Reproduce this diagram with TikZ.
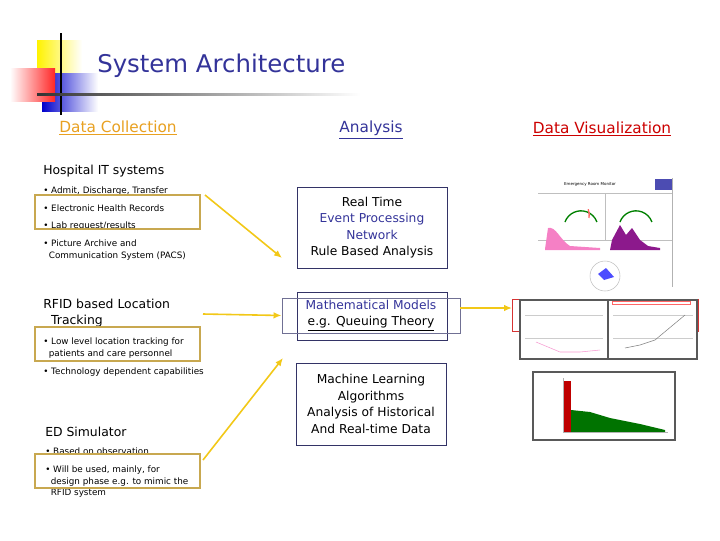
\documentclass[tikz,border=0pt]{standalone}
\usepackage{fontspec}
\setmainfont{DejaVu Sans}
\usetikzlibrary{arrows.meta}
\definecolor{ttl}{HTML}{333399}
\definecolor{tan}{HTML}{C8A850}
\definecolor{ylw}{HTML}{F2C818}
\definecolor{bbox}{HTML}{333366}
\definecolor{org}{HTML}{E8A020}
\definecolor{rd}{HTML}{CC0000}
\tikzset{
 px/.style={x=0.75pt,y=-0.75pt},
 hdr/.style={font=\fontsize{11.5}{13}\selectfont},
 bul/.style={font=\fontsize{6.6}{8.3}\selectfont,align=left,anchor=north west,inner sep=0pt},
 sub/.style={font=\fontsize{9.3}{11.5}\selectfont,align=left,anchor=north west,inner sep=0pt},
 tb/.style={draw=tan,line width=0.8pt},
 ab/.style={draw=bbox,line width=0.7pt,font=\fontsize{9.2}{12.3}\selectfont,align=center,inner sep=0pt},
 arr/.style={draw=ylw,line width=1.2pt,-{Latex[length=6pt,width=5pt]}},
 img/.style={draw=gray!70!black,line width=1.5pt,fill=white}
}
\begin{document}
\begin{tikzpicture}[px]
\useasboundingbox (0,0) rectangle (720,540);
% logo
\shade[left color=yellow!90!orange,right color=white] (37,40) rectangle (82,73);
\shade[left color=blue!80!black,right color=white] (42,73) rectangle (98,111);
\shade[left color=white,right color=red!85] (10,68) rectangle (55,101);
\draw[line width=1.5pt] (61,33) -- (61,115);
\shade[left color=black!80,right color=white] (37,93) rectangle (360,95);
\node[font=\fontsize{18.3}{22}\selectfont,text=ttl,anchor=west,inner sep=0pt] (title) at (97,66) {System Architecture};
% headers
\node[hdr,text=org] (h1) at (118,128) {\underline{Data Collection}};
\node[hdr,text=ttl] (h2) at (371,130) {\underline{Analysis}};
\node[hdr,text=rd] (h3) at (602,129) {\underline{Data Visualization}};
% left column
\node[sub] (hosp) at (43,165) {Hospital IT systems};
\node[bul] (b1) at (43,187) {\textbullet\ Admit, Discharge, Transfer};
\node[bul] (b2) at (43,205) {\textbullet\ Electronic Health Records};
\node[bul] (b3) at (43,222) {\textbullet\ Lab request/results};
\node[bul] (b4) at (43,240) {\textbullet\ Picture Archive and\\\ \ Communication System (PACS)};
\draw[tb] (35,195) rectangle (200,229);
\node[sub] (rfid) at (43,299) {RFID based Location\\\ \ Tracking};
\node[bul] (b5) at (43,338) {\textbullet\ Low level location tracking for\\\ \ patients and care personnel};
\node[bul] (b6) at (43,368) {\textbullet\ Technology dependent capabilities};
\draw[tb] (35,327) rectangle (200,361);
\node[sub] (eds) at (45,427) {ED Simulator};
\node[bul] (b7) at (45,448) {\textbullet\ Based on observation};
\node[bul] (b8) at (45,466) {\textbullet\ Will be used, mainly, for\\\ \ design phase e.g. to mimic the\\\ \ RFID system};
\draw[tb] (35,454) rectangle (200,488);
% middle
\node[ab,minimum width=150*0.75pt,minimum height=81*0.75pt] (m1) at (372,227.5) {Real Time\\\textcolor{ttl}{Event Processing}\\\textcolor{ttl}{Network}\\Rule Based Analysis};
\draw[bbox,line width=0.7pt] (297,292) rectangle (447,340);
\node[ab,draw=bbox!70,minimum width=178*0.75pt,minimum height=35*0.75pt,fill=none] (m2) at (371,315.5) {\textcolor{ttl}{Mathematical Models}\\\underline{e.g. Queuing Theory}};
\node[ab,minimum width=150*0.75pt,minimum height=82*0.75pt] (m3) at (371,404) {Machine Learning\\Algorithms\\Analysis of Historical\\And Real-time Data};
% right images
\node[inner sep=0pt,minimum width=134*0.75pt,minimum height=109*0.75pt] (v1) at (605,232) {};
\begin{scope}
\draw[gray!60] (672,178) -- (672,287);
\node[font=\fontsize{3}{3}\selectfont] at (590,184) {Emergency Room Monitor};
\fill[blue!40!gray] (655,179) rectangle (672,190);
\draw[gray!50] (538,193) -- (672,193) (605,193)--(605,240) (538,240)--(672,240);
\draw[green!50!black,line width=1pt] (565,222) arc (200:340:17);
\draw[red!60,line width=1pt] (589,218) arc (10:-20:17);
\draw[green!50!black,line width=1pt] (620,222) arc (200:340:17);
\fill[magenta!50] (545,249) -- (548,228) .. controls (556,226) and (560,240) .. (570,246) -- (600,248) -- (600,250) -- (545,250) -- cycle;
\fill[violet!90] (610,250) -- (612,240) -- (620,225) -- (626,235) -- (632,228) -- (640,240) -- (648,246) -- (660,248) -- (660,250) -- cycle;
\draw[gray!50] (605,276) circle (15);
\fill[blue!70] (598,274) -- (606,268) -- (614,277) -- (604,280) -- cycle;
\end{scope}
\draw[rd!80,line width=0.7pt] (512,299) rectangle (698,331);
\node[img,minimum width=177*0.75pt,minimum height=59*0.75pt] (v2) at (608.5,329.5) {};
\begin{scope}
\draw[gray!70!black,line width=1pt] (608,300) -- (608,359);
\draw[gray!40] (525,315) -- (603,315) (525,338) -- (603,338) (613,315) -- (693,315) (613,338) -- (693,338);
\draw[magenta!40] (536,342) -- (560,352) -- (580,352) -- (600,350);
\draw[gray] (625,348) -- (640,345) -- (655,340) -- (685,315);
\draw[red!60] (612,301) rectangle (690,304);
\end{scope}
\node[img,minimum width=142*0.75pt,minimum height=68*0.75pt] (v3) at (604,406) {};
\begin{scope}
\fill[red!75!black] (564,381) rectangle (571,432);
\fill[green!45!black] (571,432) -- (571,410) -- (590,412) -- (610,418) -- (640,424) -- (665,430) -- (665,432) -- cycle;
\draw[gray!60] (563,378) -- (563,432) -- (668,432);
\end{scope}
% arrows
\coordinate (a1s) at (205,195);
\coordinate (a1e) at (282,258);
\draw[arr] (a1s) -- (a1e);
\coordinate (a2s) at (203,314);
\draw[arr] (a2s) -- (m2.west);
\coordinate (a3s) at (203,460);
\coordinate (a3e) at (283,358);
\draw[arr] (a3s) -- (a3e);
\coordinate (a4e) at (512,308);
\draw[arr] (m2.east |- a4e) -- (a4e);
\end{tikzpicture}
\end{document}
